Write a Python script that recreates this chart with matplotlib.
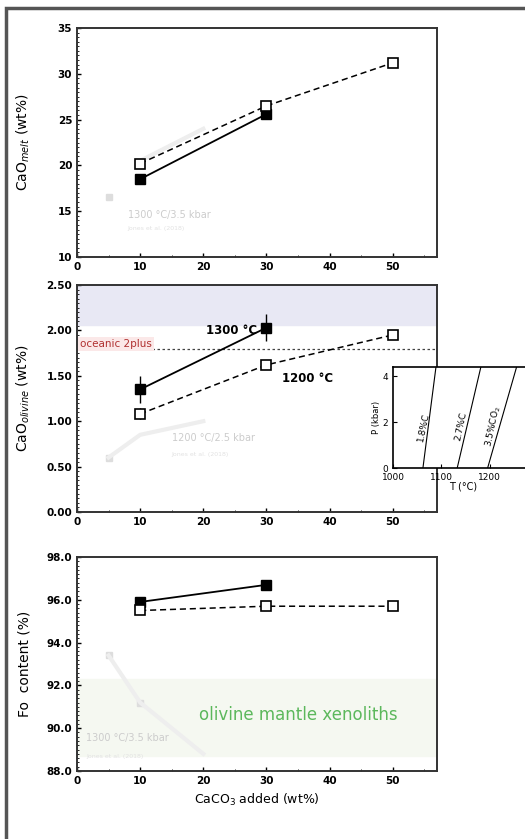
#!/usr/bin/env python3
"""
CaO in melt and olivine, and Fo content, vs. CaCO3 added.
"""

import matplotlib
matplotlib.use('Agg')
import matplotlib.pyplot as plt
from matplotlib.patches import Rectangle
from matplotlib.ticker import MultipleLocator, FormatStrFormatter

# Data
caco3_1300 = [10, 30]
caco3_1200 = [10, 30, 50]

cao_melt_1300 = [18.5, 25.6]
cao_melt_1200 = [20.2, 26.5, 31.2]

cao_ol_1300 = [1.35, 2.03]
cao_ol_1300_err = [0.15, 0.15]
cao_ol_1200 = [1.08, 1.62, 1.95]
cao_ol_1200_err = [0.06, 0.05, 0.04]

fo_1300 = [95.9, 96.7]
fo_1200 = [95.5, 95.7, 95.7]

# faded literature data (background)
lit_x = [5, 10, 20]
lit_melt = [16.5, 20.5, 24.0]
lit_ol = [0.60, 0.85, 1.00]
lit_fo = [93.4, 91.2, 88.8]

# inset: CO2 isopleths, T (°C) at P=0 and P=4.4 kbar
iso_T_low = [1062, 1133, 1196]
iso_T_high = [1089, 1182, 1256]
iso_P = [0, 4.4]
iso_labels = ['1.8%C', '2.7%C', '3.5%CO$_2$']

W, H = 525, 839
fig = plt.figure(figsize=(W / 100, H / 100), dpi=100)

# figure frame
fig.patches.append(Rectangle((6 / W, -0.01), 1.1, 1 - 8 / H + 0.01,
                             transform=fig.transFigure, fill=False,
                             edgecolor='#555555', linewidth=2.5))

left, width = 77 / W, 360 / W
ax1 = fig.add_axes([left, 1 - 257 / H, width, 229 / H])
ax2 = fig.add_axes([left, 1 - 512 / H, width, 227 / H])
ax3 = fig.add_axes([left, 1 - 771 / H, width, 214 / H])

ghost = '#dddddd'
dash = (0, (4, 2.5))

for ax in (ax1, ax2, ax3):
    ax.set_xlim(0, 57)
    ax.xaxis.set_major_locator(MultipleLocator(10))
    ax.xaxis.set_minor_locator(MultipleLocator(5))
    ax.tick_params(labelsize=7.5, direction='in', length=3, width=1)
    ax.tick_params(which='minor', direction='in', length=1.5)
    for sp in ax.spines.values():
        sp.set_linewidth(1.4)
        sp.set_color('#333333')

# Panel 1 - CaO melt
ax1.set_ylim(10, 35)
ax1.yaxis.set_major_locator(MultipleLocator(5))
ax1.yaxis.set_minor_locator(MultipleLocator(0.5))
ax1.plot(lit_x[:1], lit_melt[:1], 's', color=ghost, ms=5)
ax1.plot(lit_x[1:], lit_melt[1:], '-', color='#eeeeee', lw=3)
ax1.text(8, 14.3, '1300 °C/3.5 kbar', color='#cccccc', fontsize=7)
ax1.text(8, 13.0, 'Jones et al. (2018)', color='#e2e2e2', fontsize=4.5)
ax1.plot(caco3_1300, cao_melt_1300, 'k-s', ms=7, lw=1.3, mfc='black')
ax1.plot(caco3_1200, cao_melt_1200, 'ks', ls=dash, ms=7, lw=1.1,
         mfc='white', mew=1.2)
ax1.set_ylabel('CaO$_{melt}$ (wt%)', fontsize=10)

# Panel 2 - CaO olivine
ax2.set_ylim(0, 2.5)
ax2.yaxis.set_major_locator(MultipleLocator(0.5))
ax2.yaxis.set_minor_locator(MultipleLocator(0.05))
ax2.yaxis.set_major_formatter(FormatStrFormatter('%.2f'))
ax2.axhspan(2.06, 2.5, color='#e8e8f4', zorder=0)
ax2.axhline(1.8, color='#444444', ls=(0, (2, 2)), lw=0.9, zorder=1)
ax2.text(0.5, 1.85, 'oceanic 2plus', color='#b03030', fontsize=7.5,
         va='center', bbox=dict(facecolor='#fbe8e8', edgecolor='none',
                                pad=1.5))
ax2.plot(lit_x[:1], lit_ol[:1], 's', color=ghost, ms=5)
ax2.plot(lit_x, lit_ol, '-', color='#eeeeee', lw=3)
ax2.text(15, 0.78, '1200 °C/2.5 kbar', color='#cccccc', fontsize=7)
ax2.text(15, 0.62, 'Jones et al. (2018)', color='#e2e2e2', fontsize=4.5)
ax2.errorbar(caco3_1300, cao_ol_1300, yerr=cao_ol_1300_err, fmt='k-s',
             ms=7, lw=1.3, capsize=0, elinewidth=1)
ax2.errorbar(caco3_1200, cao_ol_1200, yerr=cao_ol_1200_err, fmt='ks',
             ls=dash, ms=7, lw=1.1, mfc='white', mew=1.2, capsize=0,
             elinewidth=1)
ax2.text(28.5, 2.0, '1300 °C', fontsize=8.5, ha='right', va='center',
         fontweight='bold')
ax2.text(32.5, 1.47, '1200 °C', fontsize=8.5, ha='left', va='center',
         fontweight='bold')
ax2.set_ylabel('CaO$_{olivine}$ (wt%)', fontsize=10)

# inset
axi = fig.add_axes([393 / W, 1 - 468 / H, 140 / W, 101 / H])
axi.set_xlim(1000, 1290)
axi.set_ylim(0, 4.4)
axi.set_xticks([1000, 1100, 1200])
axi.set_yticks([0, 2, 4])
axi.tick_params(labelsize=6.5, direction='in', length=3)
for sp in axi.spines.values():
    sp.set_linewidth(1.2)
for t0, t1, lab in zip(iso_T_low, iso_T_high, iso_labels):
    axi.plot([t0, t1], iso_P, 'k-', lw=0.8)
    axi.text(t0 + (t1 - t0) * 0.35 - 9, 1.8, lab, fontsize=6.5,
             rotation=78, ha='center', va='center')
axi.set_xlabel('T (°C)', fontsize=7, labelpad=0)
axi.set_ylabel('P (kbar)', fontsize=6, labelpad=1)

# Panel 3 - Fo content
ax3.set_ylim(88, 98)
ax3.yaxis.set_major_locator(MultipleLocator(2))
ax3.yaxis.set_minor_locator(MultipleLocator(0.2))
ax3.yaxis.set_major_formatter(FormatStrFormatter('%.1f'))
ax3.axhspan(88.7, 92.3, color='#f5f8f1', zorder=0)
ax3.text(35, 90.6, 'olivine mantle xenoliths', color='#5cb85c',
         fontsize=12, ha='center', va='center')
ax3.plot(lit_x[:2], lit_fo[:2], 's', color=ghost, ms=5)
ax3.plot(lit_x, lit_fo, '-', color='#eeeeee', lw=3)
ax3.text(1.5, 89.4, '1300 °C/3.5 kbar', color='#cccccc', fontsize=7)
ax3.text(1.5, 88.6, 'Jones et al. (2018)', color='#e2e2e2', fontsize=4.5)
ax3.plot(caco3_1300, fo_1300, 'k-s', ms=7, lw=1.3)
ax3.plot(caco3_1200, fo_1200, 'ks', ls=dash, ms=7, lw=1.1, mfc='white',
         mew=1.2)
ax3.set_ylabel('Fo  content (%)', fontsize=10)
ax3.set_xlabel('CaCO$_3$ added (wt%)', fontsize=9)

for ax in (ax1, ax2, ax3):
    ax.yaxis.set_label_coords(-0.125, 0.5)
    for lab in ax.get_xticklabels() + ax.get_yticklabels():
        lab.set_fontweight('bold')

fig.savefig('out.png', dpi=100)
